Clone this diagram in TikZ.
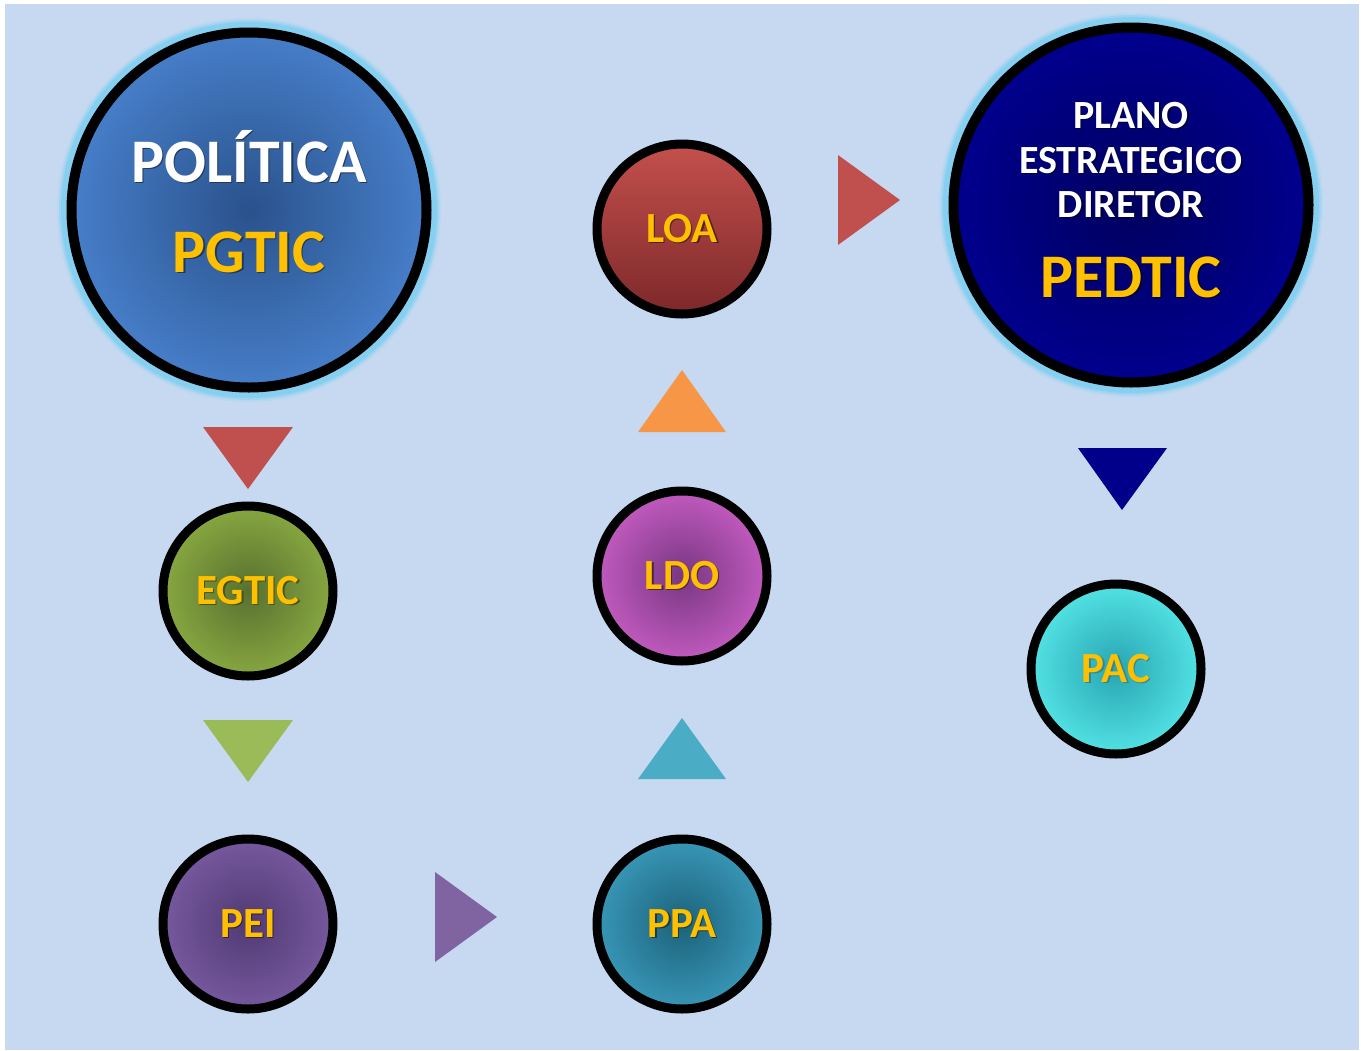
\documentclass[tikz,border=0pt]{standalone}
\usepackage{fontspec}
\setmainfont{Carlito}
\usetikzlibrary{positioning}

\definecolor{fundo}{RGB}{198,217,241}
\definecolor{amarelo}{RGB}{255,192,0}
\definecolor{brilhoc}{RGB}{110,205,240}
\definecolor{azulA}{RGB}{70,126,200}
\definecolor{azulB}{RGB}{42,82,140}
\definecolor{marinhoA}{RGB}{0,0,142}
\definecolor{marinhoB}{RGB}{0,0,95}
\definecolor{vermA}{RGB}{196,80,76}
\definecolor{vermB}{RGB}{125,40,42}
\definecolor{verdeA}{RGB}{135,167,64}
\definecolor{verdeB}{RGB}{88,112,48}
\definecolor{roxoA}{RGB}{193,90,190}
\definecolor{roxoB}{RGB}{120,55,130}
\definecolor{petroA}{RGB}{56,150,182}
\definecolor{petroB}{RGB}{28,98,122}
\definecolor{violA}{RGB}{118,88,158}
\definecolor{violB}{RGB}{80,58,115}
\definecolor{cianoA}{RGB}{82,226,228}
\definecolor{cianoB}{RGB}{40,165,178}
\definecolor{triVerm}{RGB}{192,80,77}
\definecolor{triVerde}{RGB}{155,187,89}
\definecolor{triLaranja}{RGB}{247,150,70}
\definecolor{triPetro}{RGB}{75,172,198}
\definecolor{triRoxo}{RGB}{128,100,162}
\definecolor{triMarinho}{RGB}{0,0,139}

% texto com sombra
\newcommand{\sombra}[2]{\rlap{\kern1.5pt\raisebox{-1.5pt}{\color{#1}#2}}#2}

\begin{document}
\begin{tikzpicture}[x=1pt, y=-1pt,
  bolha/.style={circle, draw=black, line width=9pt, minimum size=170pt, inner sep=0pt,
    font=\bfseries\fontsize{43}{43}\selectfont, text=amarelo},
  bolhagrande/.style={bolha, line width=10pt, minimum size=355pt},
  titulo/.style={anchor=base, inner sep=0pt, font=\bfseries\fontsize{62}{62}\selectfont},
  subtitulo/.style={anchor=base, inner sep=0pt, text=white, font=\bfseries\fontsize{40}{40}\selectfont}]
\useasboundingbox (0,0) rectangle (1366,1050);
\fill[white] (0,0) rectangle (1366,1050);
\fill[fundo] (5,4) rectangle (1359,1050);

% brilho dos circulos grandes
\foreach \w/\o in {16/0.15, 12/0.3, 8/0.55} {
  \draw[brilhoc, line width=\w, opacity=\o] (249,210) circle (184);
  \draw[brilhoc, line width=\w, opacity=\o] (1131,205) circle (184);
}

\node[bolhagrande, inner color=azulB, outer color=azulA] (politica) at (249,210) {};
\node[bolhagrande, inner color=marinhoB, outer color=marinhoA] (pedtic) at (1131,205) {};

\node[titulo, text=white] (politicaTxt) at (249,182) {\sombra{black!55!azulA}{POLÍTICA}};
\node[titulo, text=amarelo] (pgticTxt) at (249,272) {\sombra{black!55!azulA}{PGTIC}};

\node[subtitulo] (planoTxt) at (1131,128) {\sombra{black!60!marinhoA}{PLANO}};
\node[subtitulo] (estrTxt) at (1131,173) {\sombra{black!60!marinhoA}{ESTRATEGICO}};
\node[subtitulo] (dirTxt) at (1131,217) {\sombra{black!60!marinhoA}{DIRETOR}};
\node[titulo, text=amarelo] (pedticTxt) at (1131,297) {\sombra{black!60!marinhoA}{PEDTIC}};

% circulos pequenos
\node[bolha, top color=vermA, bottom color=vermB] (loa) at (682,229) {\sombra{black!60!vermA}{LOA}};
\node[bolha, inner color=roxoB, outer color=roxoA] (ldo) at (682,576) {\sombra{black!60!roxoA}{LDO}};
\node[bolha, inner color=petroB, outer color=petroA] (ppa) at (682,924) {\sombra{black!60!petroA}{PPA}};
\node[bolha, inner color=verdeB, outer color=verdeA] (egtic) at (248,591) {\sombra{black!50!verdeA}{EGTIC}};
\node[bolha, inner color=violB, outer color=violA] (pei) at (248,924) {\sombra{black!60!violA}{PEI}};
\node[bolha, inner color=cianoB, outer color=cianoA] (pac) at (1116,669) {\sombra{black!40!cianoA}{PAC}};

% setas triangulares
\fill[triVerm] (203,427) -- (293,427) -- (248,489) -- cycle;
\fill[triVerde] (203,720) -- (293,720) -- (248,782) -- cycle;
\fill[triLaranja] (638,432) -- (726,432) -- (682,370) -- cycle;
\fill[triPetro] (638,779) -- (726,779) -- (682,718) -- cycle;
\fill[triRoxo] (435,872) -- (435,962) -- (497,917) -- cycle;
\fill[triVerm] (838,155) -- (838,245) -- (900,200) -- cycle;
\fill[triMarinho] (1078,448) -- (1167,448) -- (1122,510) -- cycle;

\end{tikzpicture}
\end{document}
